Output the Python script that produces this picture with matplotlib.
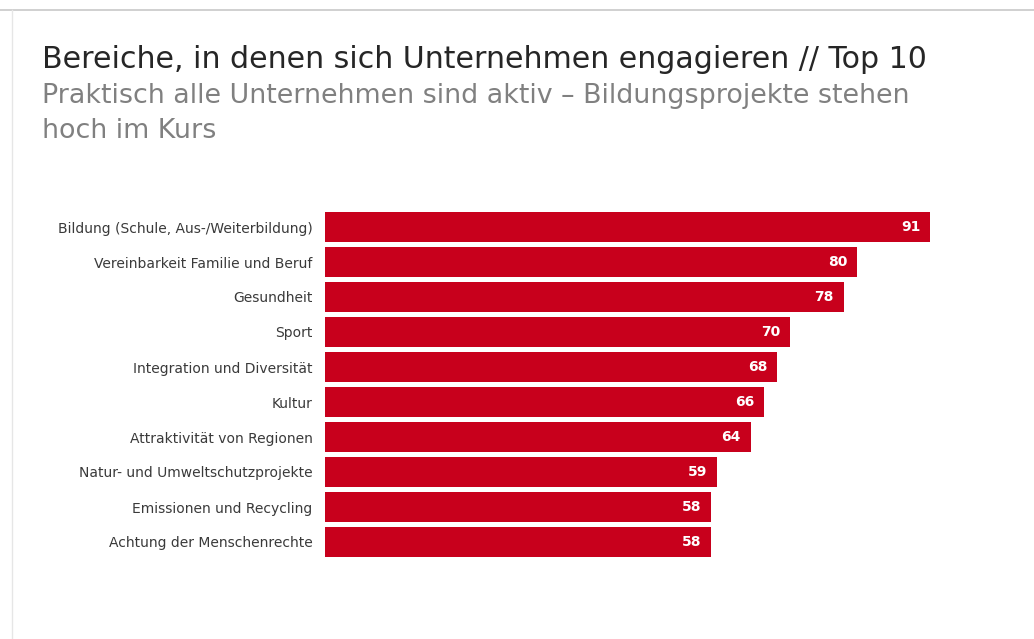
import matplotlib
matplotlib.use("Agg")
import matplotlib.pyplot as plt
from matplotlib.lines import Line2D

categories = [
    "Bildung (Schule, Aus-/Weiterbildung)",
    "Vereinbarkeit Familie und Beruf",
    "Gesundheit",
    "Sport",
    "Integration und Diversität",
    "Kultur",
    "Attraktivität von Regionen",
    "Natur- und Umweltschutzprojekte",
    "Emissionen und Recycling",
    "Achtung der Menschenrechte",
]
values = [91, 80, 78, 70, 68, 66, 64, 59, 58, 58]

title = "Bereiche, in denen sich Unternehmen engagieren // Top 10"
subtitle1 = "Praktisch alle Unternehmen sind aktiv – Bildungsprojekte stehen"
subtitle2 = "hoch im Kurs"

W, H = 1034, 639
fig = plt.figure(figsize=(W / 100, H / 100), dpi=100)
fig.patch.set_facecolor("white")

# frame lines (top and left)
fig.add_artist(Line2D([0, 1], [1 - 10 / H, 1 - 10 / H], color="#c8c8c8", lw=1.2))
fig.add_artist(Line2D([12 / W, 12 / W], [0, 1 - 10 / H], color="#e6e6e6", lw=1.0))

ax = fig.add_axes([325 / W, 1 - 559.5 / H, 665 / W, 350 / H])
ypos = list(range(len(categories)))
ax.barh(ypos, values, height=0.83, color="#C8001C", edgecolor="none")
ax.set_xlim(0, 100)
ax.set_ylim(len(categories) - 0.5, -0.5)
ax.set_yticks(ypos)
ax.set_yticklabels(categories, fontsize=10, color="#3a3a3a", family="DejaVu Sans")
ax.tick_params(axis="y", length=0, pad=9)
ax.set_xticks([])
for s in ax.spines.values():
    s.set_visible(False)

for y, v in zip(ypos, values):
    ax.annotate(str(v), xy=(v, y), xytext=(-7, 0), textcoords="offset points",
                ha="right", va="center", color="white", fontsize=10,
                fontweight="bold", family="DejaVu Sans")

fig.canvas.draw()
renderer = fig.canvas.get_renderer()

def fit_text(x, y, s, target_w, cap_px, family, color, size0):
    t = fig.text(x / W, 1 - y / H, s, fontsize=size0, family=family,
                 color=color, ha="left", va="baseline")
    w = t.get_window_extent(renderer).width
    size_w = size0 * target_w / w
    size_h = cap_px / 0.73 * 72 / 100
    t.set_fontsize(size_w ** 0.55 * size_h ** 0.45)
    return t

t1 = fit_text(42, 68, title, 951, 20, "DejaVu Sans", "#262626", 20)
t2 = fit_text(42, 103, subtitle1, 936, 18, "DejaVu Sans", "#808080", 16)
fig.text(42 / W, 1 - 138 / H, subtitle2, fontsize=t2.get_fontsize(),
         family="DejaVu Sans", color="#808080", ha="left", va="baseline")

fig.savefig("out.png", dpi=100, facecolor="white")
